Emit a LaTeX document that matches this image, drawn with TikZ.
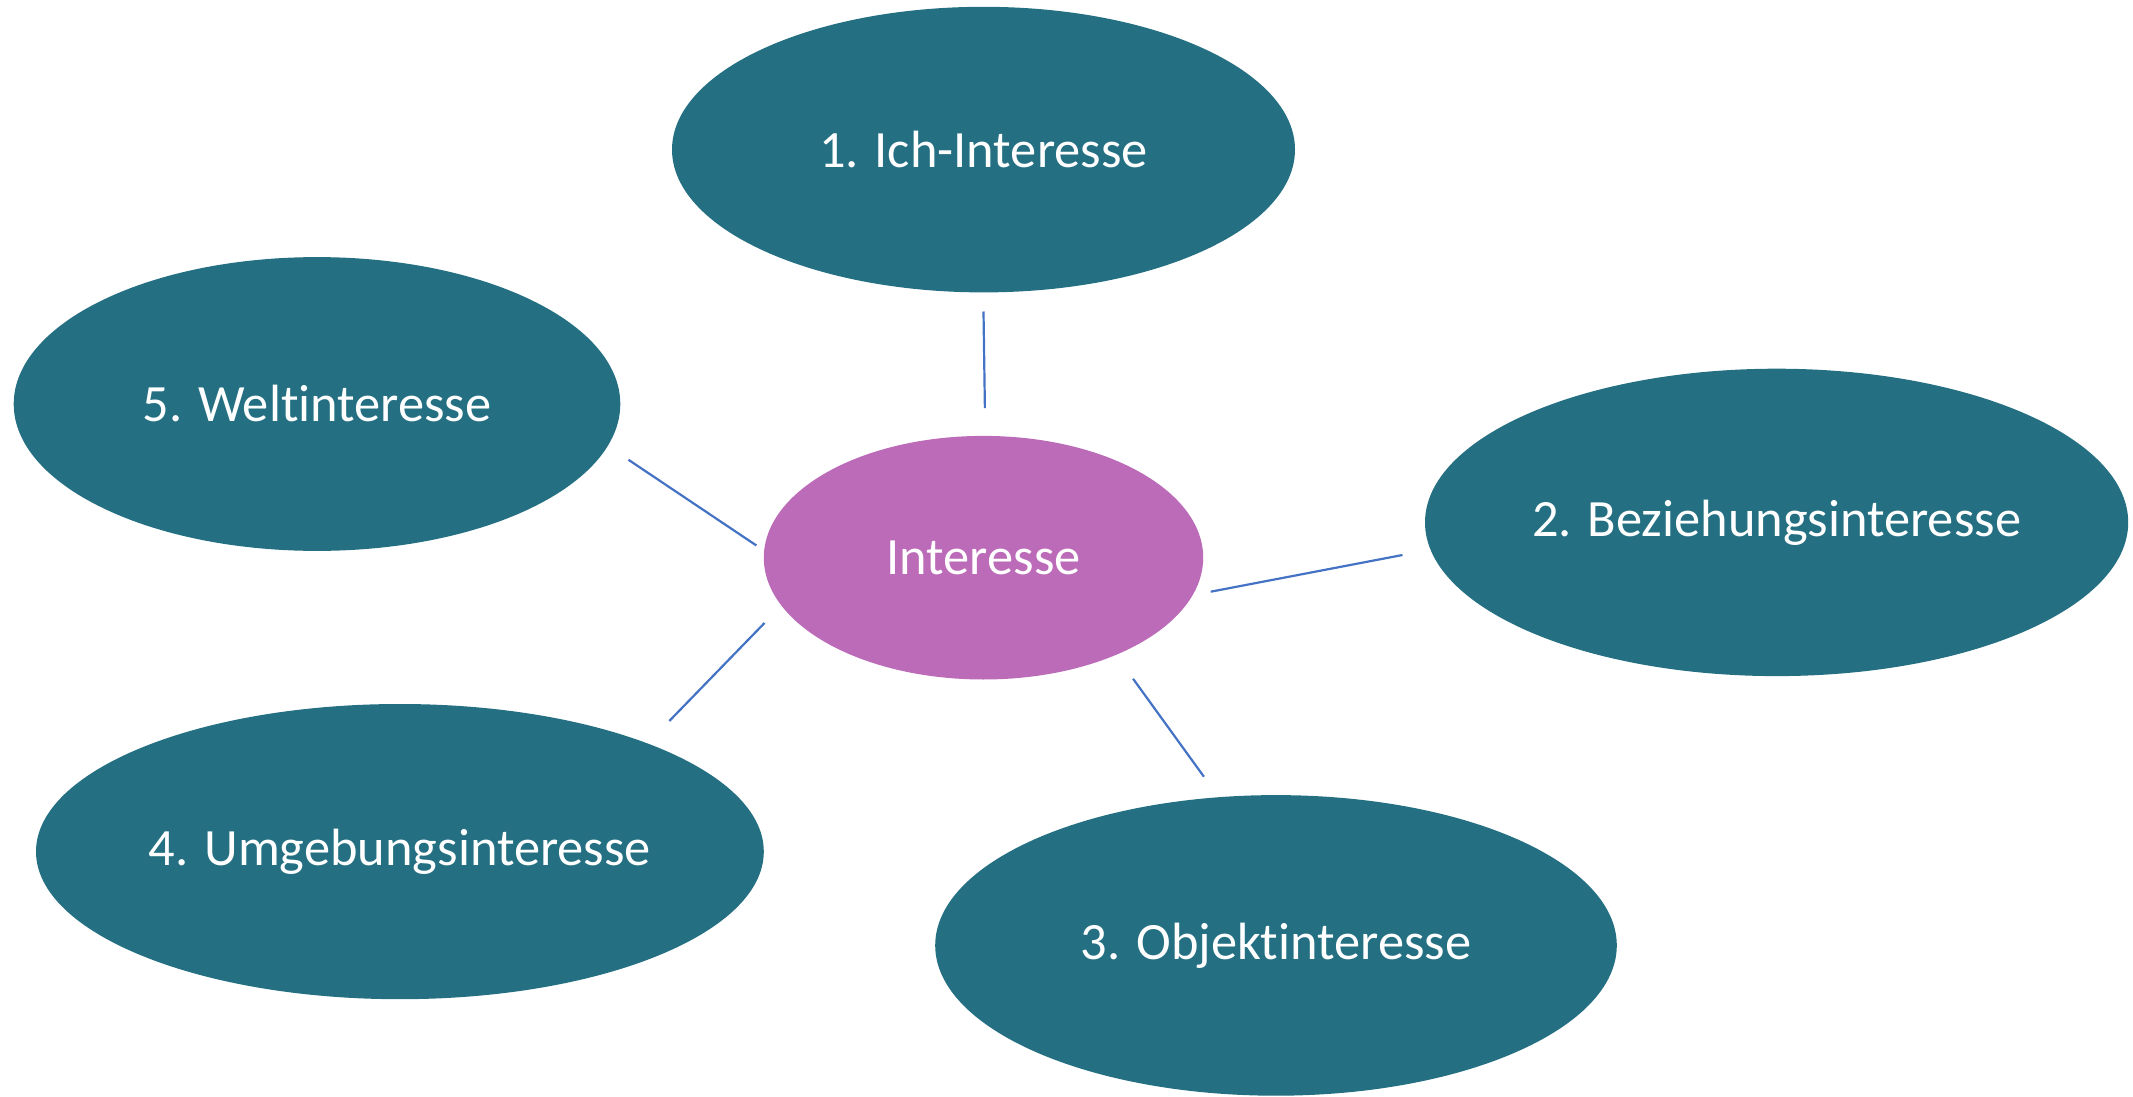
\documentclass[tikz,border=0pt]{standalone}
\usepackage{fontspec}
\setmainfont{Carlito}[Ligatures={NoCommon}]
\usetikzlibrary{shapes.geometric}
\definecolor{teal}{HTML}{247082}
\definecolor{orchid}{HTML}{BC6BB8}
\definecolor{linkblue}{HTML}{4472C4}
\newcommand{\zerowidthtext}[1]{\makebox[0pt]{#1}}
\begin{document}
\begin{tikzpicture}[x=0.5pt,y=-0.5pt,
  bubble/.style={ellipse,fill=teal,draw=none,inner sep=0pt,outer sep=0pt,text=white,
    font=\fontsize{26.2}{31}\selectfont},
  hub/.style={ellipse,fill=orchid,draw=none,inner sep=0pt,outer sep=0pt,text=white,
    font=\fontsize{26.2}{31}\selectfont},
  link/.style={draw=linkblue,line width=1.1pt}]
\useasboundingbox (0,0) rectangle (2133,1097);
\node[hub,minimum width=219.7pt,minimum height=121.8pt] (c) at (983.5,557.7) {\zerowidthtext{Interesse}};
\node[bubble,minimum width=311.5pt,minimum height=142.8pt] (n1) at (983.5,149.6) {\zerowidthtext{1. Ich-Interesse}};
\node[bubble,minimum width=351.6pt,minimum height=153.7pt] (n2) at (1776.6,522.4) {\zerowidthtext{2. Beziehungsinteresse}};
\node[bubble,minimum width=340.8pt,minimum height=150.3pt] (n3) at (1276,945.4) {\zerowidthtext{3. Objektinteresse}};
\node[bubble,minimum width=363.9pt,minimum height=147.6pt] (n4) at (399.9,851.6) {\zerowidthtext{4. Umgebungsinteresse}};
\node[bubble,minimum width=303.3pt,minimum height=146.9pt] (n5) at (317,404) {\zerowidthtext{5. Weltinteresse}};
\coordinate (a1) at (983.5,311.5);
\coordinate (b1) at (984.9,408.1);
\coordinate (a5) at (628.5,459.8);
\coordinate (b5) at (756.4,545.5);
\coordinate (a2) at (1210.7,591.7);
\coordinate (b2) at (1402.5,555);
\coordinate (a3) at (1133.1,678.8);
\coordinate (b3) at (1203.9,776.7);
\coordinate (a4) at (764.5,623);
\coordinate (b4) at (669.3,721);
\draw[link] (a1) -- (b1);
\draw[link] (a5) -- (b5);
\draw[link] (a2) -- (b2);
\draw[link] (a3) -- (b3);
\draw[link] (a4) -- (b4);
\end{tikzpicture}
\end{document}
